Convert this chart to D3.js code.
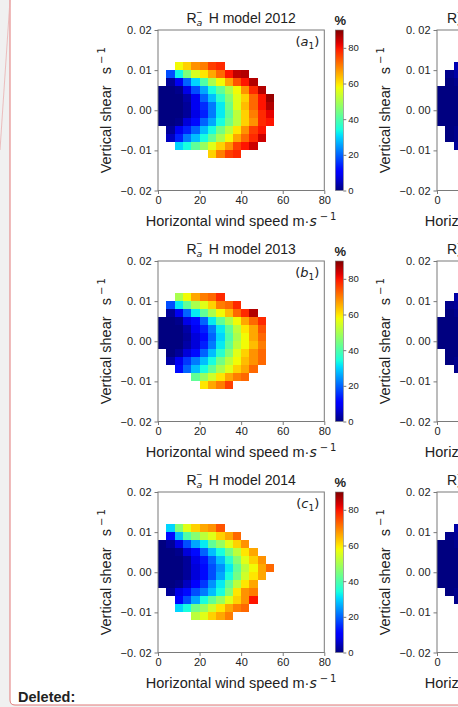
<!DOCTYPE html>
<html>
<head>
<meta charset="utf-8">
<script src="https://cdn.jsdelivr.net/npm/d3@7/dist/d3.min.js"></script>
<style>
  body { margin: 0; background: #f0f0f0; }
  svg { display: block; }
  text { fill: #222; }
</style>
</head>
<body>
<svg id="fig" width="458" height="707"></svg>
<script>
// Bin edges: horizontal wind speed (m/s) and vertical shear (1/s)
const speedEdges = [0, 4, 8, 12, 16, 20, 24, 28, 32, 36, 40, 44, 48, 52, 56];
const shearEdges = [0.012, 0.010, 0.008, 0.006, 0.004, 0.002, 0, -0.002, -0.004, -0.006, -0.008, -0.010, -0.012];

const xTicks = [0, 20, 40, 60, 80];
const yTicks = [0.02, 0.01, 0, -0.01, -0.02];
const colorTicks = [0, 20, 40, 60, 80];
const years = ["2012", "2013", "2014"];
const tags = ["a", "b", "c"];

// R_a^- (%) per cell, rows from top shear bin down, columns by wind speed bin
const ratio2012 = [
  [null, null, 58, 62, 68, 70, 76, 78, null, null, null, null, null, null],
  [null, 18, 33, 45, 55, 60, 66, 72, 80, 85, 86, null, null, null],
  [null, 2, 9, 20, 30, 40, 50, 58, 66, 74, 80, 86, null, null],
  [0, 0, 1, 8, 18, 26, 34, 42, 50, 58, 68, 78, 86, null],
  [0, 0, 0, 3, 9, 20, 28, 36, 46, 56, 62, 72, 80, 88],
  [0, 0, 0, 2, 9, 15, 22, 32, 44, 56, 64, 72, 80, 86],
  [0, 0, 0, 2, 8, 14, 22, 32, 42, 52, 62, 70, 78, 82],
  [0, 0, 1, 7, 12, 20, 26, 34, 44, 52, 62, 68, 78, 80],
  [null, 2, 9, 14, 20, 28, 34, 44, 52, 60, 68, 76, 80, null],
  [null, 5, 14, 22, 28, 34, 42, 50, 58, 66, 72, 78, 84, null],
  [null, null, 30, 34, 42, 48, 56, 62, 68, 76, 80, 84, null, null],
  [null, null, null, null, null, null, 62, 70, 76, 78, null, null, null, null]
];
const ratio2013 = [
  [null, null, 50, 58, 66, 70, 72, 78, null, null, null, null, null, null],
  [null, 18, 32, 42, 50, 56, 62, 70, 72, 78, null, null, null, null],
  [null, 2, 9, 20, 32, 42, 50, 58, 64, 72, 78, 86, null, null],
  [0, 0, 1, 8, 12, 20, 32, 42, 50, 58, 66, 72, 78, null],
  [0, 0, 0, 3, 9, 14, 22, 32, 42, 52, 60, 66, 74, null],
  [0, 0, 0, 2, 7, 12, 20, 30, 40, 50, 58, 66, 72, null],
  [0, 0, 0, 3, 7, 14, 22, 32, 42, 52, 58, 64, 70, null],
  [null, 0, 2, 7, 12, 20, 28, 36, 46, 56, 62, 68, 72, null],
  [null, 3, 9, 16, 22, 28, 34, 44, 52, 58, 64, 68, 72, null],
  [null, null, 12, 20, 28, 34, 42, 50, 56, 62, 66, 72, null, null],
  [null, null, null, null, 42, 48, 54, 60, 66, 70, 72, null, null, null],
  [null, null, null, null, null, 60, 66, 70, 76, null, null, null, null, null]
];
const ratio2014 = [
  [null, 30, 46, 56, 62, 66, 68, 74, null, null, null, null, null, null],
  [null, 12, 28, 40, 46, 52, 56, 62, 66, 72, null, null, null, null],
  [0, 2, 8, 18, 26, 32, 42, 48, 56, 62, 68, null, null, null],
  [0, 0, 1, 7, 12, 20, 28, 34, 44, 52, 60, 66, null, null],
  [0, 0, 0, 2, 8, 13, 20, 28, 36, 46, 56, 62, 68, null],
  [0, 0, 0, 2, 7, 12, 18, 24, 32, 42, 52, 58, 66, 72],
  [0, 0, 0, 2, 7, 12, 18, 26, 34, 44, 54, 60, 66, null],
  [0, 0, 1, 5, 10, 16, 24, 32, 42, 52, 60, 66, null, null],
  [null, 2, 8, 12, 18, 22, 28, 34, 46, 60, 68, 70, null, null],
  [null, null, 10, 18, 26, 34, 42, 48, 56, 62, 68, 80, null, null],
  [null, null, 30, 34, 44, 48, 54, 60, 66, 70, 72, null, null, null],
  [null, null, null, null, 52, 56, 62, 66, 70, null, null, null, null, null]
];
// R_a^+ (%) for the lowest wind-speed bins of the companion panels
const ratioPlus2012 = [
  [null, null, 4], [null, 1, 3], [null, 0, 1], [0, 0, 0], [0, 0, 0], [0, 0, 0],
  [0, 0, 0], [0, 0, 0], [null, 0, 1], [null, 0, 1], [null, null, 2], [null, null, null]
];
const ratioPlus2013 = [
  [null, null, 3], [null, 1, 2], [null, 0, 1], [0, 0, 0], [0, 0, 0], [0, 0, 0],
  [0, 0, 0], [null, 0, 0], [null, 0, 1], [null, null, 1], [null, null, null], [null, null, null]
];
const ratioPlus2014 = [
  [null, null, 3], [null, 1, 2], [0, 0, 1], [0, 0, 0], [0, 0, 0], [0, 0, 0],
  [0, 0, 0], [0, 0, 0], [null, 0, 1], [null, null, 1], [null, null, null], [null, null, null]
];

const ratioMinus = [ratio2012, ratio2013, ratio2014];
const ratioPlus = [ratioPlus2012, ratioPlus2013, ratioPlus2014];

// matplotlib "jet" colormap
function jet(t) {
  t = Math.max(0, Math.min(1, t));
  const seg = (pts) => {
    for (let i = 1; i < pts.length; i++) {
      if (t <= pts[i][0]) {
        const [x0, y0] = pts[i - 1], [x1, y1] = pts[i];
        return y0 + (y1 - y0) * (t - x0) / (x1 - x0);
      }
    }
    return pts[pts.length - 1][1];
  };
  const r = seg([[0, 0], [0.35, 0], [0.66, 1], [0.89, 1], [1, 0.5]]);
  const g = seg([[0, 0], [0.125, 0], [0.375, 1], [0.64, 1], [0.91, 0], [1, 0]]);
  const b = seg([[0, 0.5], [0.11, 1], [0.34, 1], [0.65, 0], [1, 0]]);
  return d3.rgb(r * 255, g * 255, b * 255).toString();
}
const color = d3.scaleSequential(jet).domain([0, 90]);

const svg = d3.select("#fig");
const FONT = "'Liberation Sans', Arial, Helvetica, sans-serif";
const MATH = "'DejaVu Sans', sans-serif";

// page frame
svg.append("rect").attr("width", 458).attr("height", 707).attr("fill", "#f0f0f0");
svg.append("path")
  .attr("d", "M10,-2 V700 Q10,705 15,705 H460 V-2 Z")
  .attr("fill", "#ffffff").attr("stroke", "#e27878").attr("stroke-width", 1);
svg.append("line").attr("x1", 10).attr("y1", 0).attr("x2", 0).attr("y2", 150)
  .attr("stroke", "#eab0b0").attr("stroke-width", 0.8);

const W = 166.3, H = 160.5;
const panelTops = [30, 261, 492];
const colLefts = [158, 437];

function fmtShear(v) {
  const s = d3.format(".2f")(Math.abs(v)).replace(".", ". ");
  return (v < 0 ? "\u2212" : "") + s;
}

function drawPanel(left, top, grid, title, sign, tag, titleStart) {
  const g = svg.append("g").attr("transform", `translate(${left},${top})`);
  const x = d3.scaleLinear().domain([0, 80]).range([0, W]);
  const y = d3.scaleLinear().domain([-0.02, 0.02]).range([H, 0]);

  const cells = [];
  grid.forEach((row, i) => row.forEach((v, j) => {
    if (v != null) cells.push({ s0: speedEdges[j], s1: speedEdges[j + 1], h0: shearEdges[i + 1], h1: shearEdges[i], v });
  }));
  g.selectAll("rect.cell").data(cells).join("rect")
    .attr("class", "cell")
    .attr("x", d => x(d.s0)).attr("y", d => y(d.h1))
    .attr("width", d => x(d.s1) - x(d.s0)).attr("height", d => y(d.h0) - y(d.h1))
    .attr("fill", d => color(d.v)).attr("shape-rendering", "crispEdges");

  // frame
  g.append("rect").attr("width", W).attr("height", H)
    .attr("fill", "none").attr("stroke", "#7a7a7a").attr("stroke-width", 1);

  const ax = g.append("g").attr("transform", `translate(0,${H})`)
    .call(d3.axisBottom(x).tickValues(xTicks).tickSize(3.5).tickSizeOuter(0).tickPadding(2.5).tickFormat(d3.format("d")));
  const ay = g.append("g")
    .call(d3.axisLeft(y).tickValues(yTicks).tickSize(3.5).tickSizeOuter(0).tickPadding(3).tickFormat(fmtShear));
  [ax, ay].forEach(a => {
    a.select(".domain").remove();
    a.selectAll("line").attr("stroke", "#7a7a7a");
    a.selectAll("text").attr("font-family", FONT).attr("font-size", 11).attr("fill", "#222");
  });

  // title R_a^± H model YYYY
  const t = g.append("text")
    .attr("x", titleStart == null ? W / 2 : titleStart).attr("y", -7)
    .attr("text-anchor", titleStart == null ? "middle" : "start")
    .attr("font-family", FONT).attr("font-size", 14);
  t.append("tspan").text("R");
  t.append("tspan").attr("font-family", MATH).attr("font-style", "italic").attr("font-size", 9.5).attr("dy", 3).text("a");
  t.append("tspan").attr("font-size", 9.5).attr("dx", -6).attr("dy", -10).text(sign);
  t.append("tspan").attr("dy", 7).text("\u2009 H model " + title);

  // panel tag (x1)
  const tg = g.append("text").attr("x", W - 5).attr("y", 15.5).attr("text-anchor", "end")
    .attr("font-family", MATH).attr("font-size", 13);
  tg.append("tspan").text("(");
  tg.append("tspan").attr("font-style", "italic").text(tag);
  tg.append("tspan").attr("font-size", 9).attr("dy", 3).text("1");
  tg.append("tspan").attr("dy", -3).text(")");

  // x label
  const xl = g.append("text").attr("x", W / 2).attr("y", H + 35).attr("text-anchor", "middle")
    .attr("font-family", FONT).attr("font-size", 14.5);
  xl.append("tspan").text("Horizontal wind speed m\u00b7");
  xl.append("tspan").attr("font-family", MATH).attr("font-style", "italic").attr("font-size", 14).text("s");
  xl.append("tspan").attr("font-family", MATH).attr("font-size", 10).attr("dx", 3).attr("dy", -6).text("\u2212\u20091");

  // y label
  const yl = g.append("text").attr("transform", `translate(-47,${H / 2}) rotate(-90)`)
    .attr("text-anchor", "middle").attr("font-family", FONT).attr("font-size", 14.5);
  yl.append("tspan").text("Vertical shear \u2002s");
  yl.append("tspan").attr("font-family", MATH).attr("font-size", 10).attr("dx", 3).attr("dy", -6).text("\u2212\u20091");

  // colorbar
  const cb = g.append("g").attr("transform", `translate(${W + 11},0)`);
  const cW = 8;
  const c = d3.scaleLinear().domain([0, 90]).range([H, 0]);
  const gid = "jetgrad" + left + "_" + top;
  const grad = svg.append("defs").append("linearGradient").attr("id", gid)
    .attr("x1", 0).attr("y1", 1).attr("x2", 0).attr("y2", 0);
  d3.range(0, 1.0001, 0.02).forEach(s => grad.append("stop").attr("offset", s).attr("stop-color", jet(s)));
  cb.append("rect").attr("width", cW).attr("height", H).attr("fill", `url(#${gid})`)
    .attr("stroke", "#7a7a7a").attr("stroke-width", 0.6);
  const ac = cb.append("g").attr("transform", `translate(${cW},0)`)
    .call(d3.axisRight(c).tickValues(colorTicks).tickSize(3).tickSizeOuter(0).tickPadding(2));
  ac.select(".domain").remove();
  ac.selectAll("line").attr("stroke", "#7a7a7a");
  ac.selectAll("text").attr("font-family", FONT).attr("font-size", 9.5).attr("fill", "#222");
  cb.append("text").attr("x", cW / 2 + 1).attr("y", -5).attr("text-anchor", "middle")
    .attr("font-family", FONT).attr("font-weight", "bold").attr("font-size", 13).text("%");
}

years.forEach((yr, i) => {
  drawPanel(colLefts[0], panelTops[i], ratioMinus[i], yr, "\u2212", tags[i], null);
  drawPanel(colLefts[1], panelTops[i], ratioPlus[i], yr, "+", tags[i], 10);
});

svg.append("text").attr("x", 18).attr("y", 702)
  .attr("font-family", FONT).attr("font-weight", "bold").attr("font-size", 14.5)
  .attr("fill", "#111").text("Deleted:");
</script>
</body>
</html>
